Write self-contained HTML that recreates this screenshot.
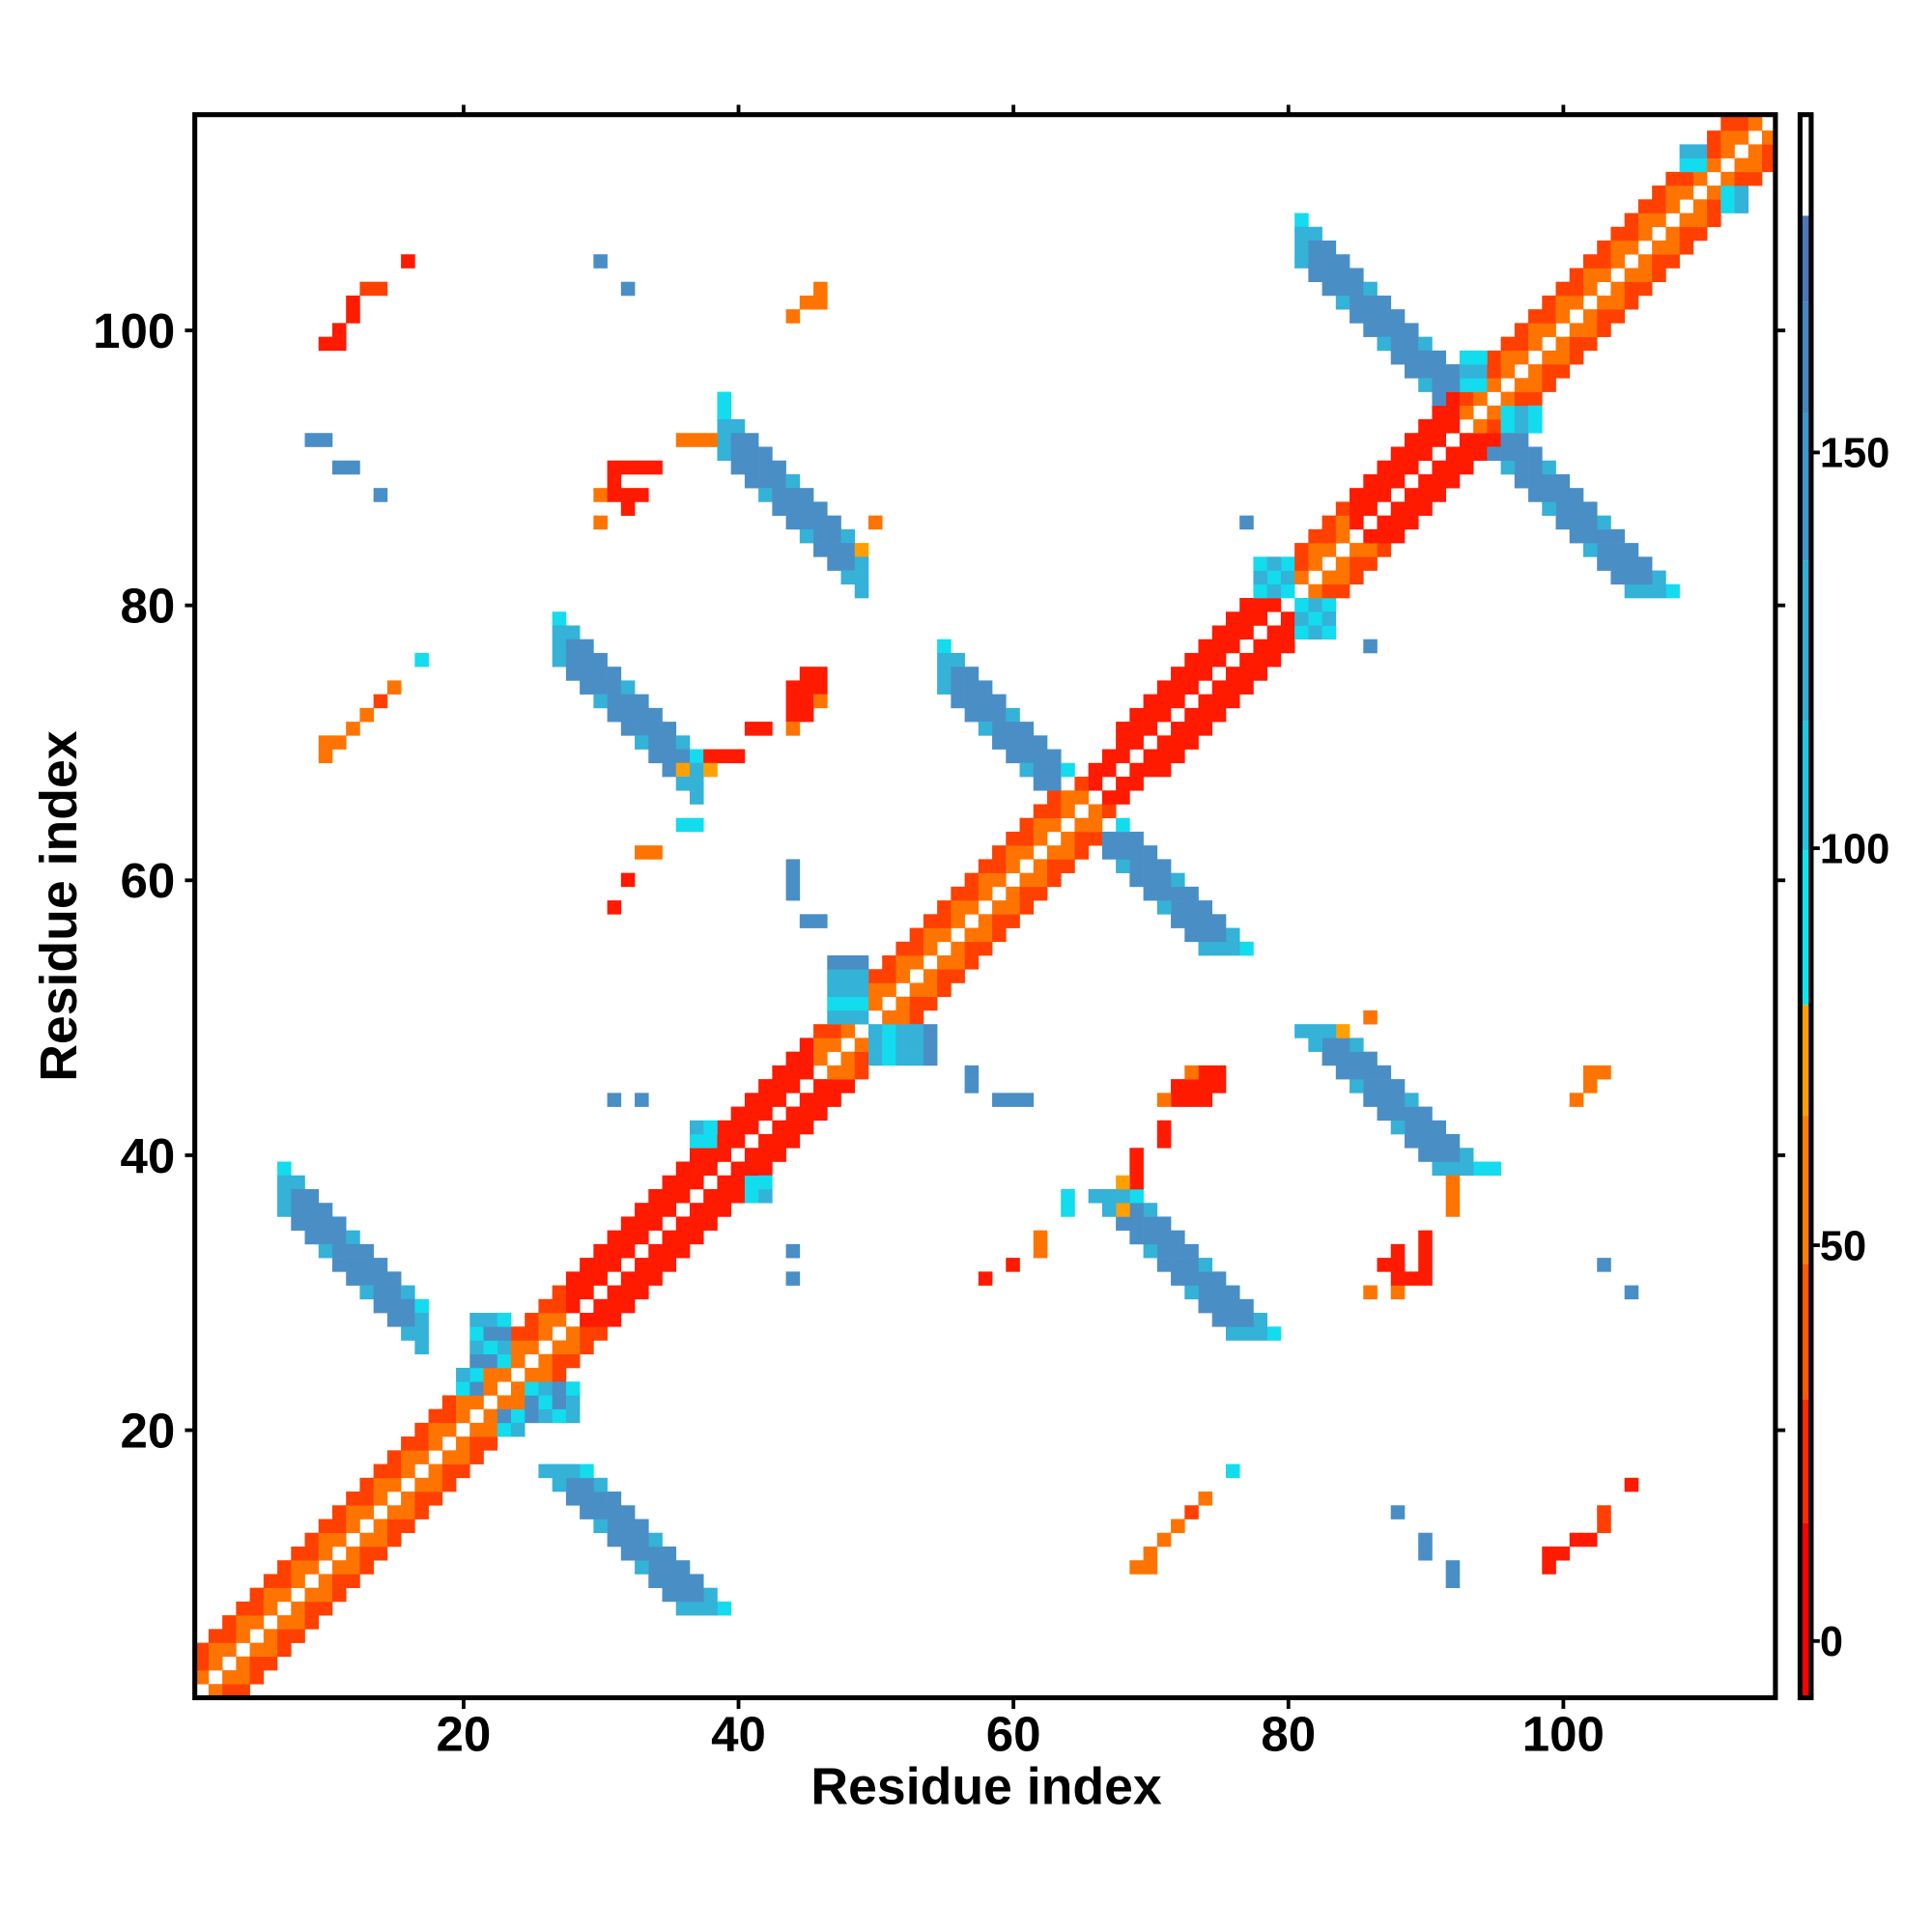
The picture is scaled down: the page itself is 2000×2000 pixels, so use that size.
<!DOCTYPE html>
<html><head><meta charset="utf-8"><style>
html,body{margin:0;padding:0;background:#fff}
svg{display:block}
text{font-family:"Liberation Sans",Arial,sans-serif;font-weight:bold;fill:#000}
</style></head><body>
<svg id="s" xmlns="http://www.w3.org/2000/svg" width="2000" height="2000" viewBox="0 0 1567 1567">
<rect width="1567" height="1567" fill="#fff"/>
<g id="cells"></g>
<rect x="158" y="93" width="1282" height="1284" fill="none" stroke="#000" stroke-width="4"/>
<g stroke="#000" stroke-width="3">
<line x1="376" y1="1377" x2="376" y2="1386"/><line x1="599" y1="1377" x2="599" y2="1386"/><line x1="822" y1="1377" x2="822" y2="1386"/><line x1="1045" y1="1377" x2="1045" y2="1386"/><line x1="1268" y1="1377" x2="1268" y2="1386"/>
<line x1="376" y1="93" x2="376" y2="85"/><line x1="599" y1="93" x2="599" y2="85"/><line x1="822" y1="93" x2="822" y2="85"/><line x1="1045" y1="93" x2="1045" y2="85"/><line x1="1268" y1="93" x2="1268" y2="85"/>
<line x1="158" y1="1160" x2="150" y2="1160"/><line x1="158" y1="937" x2="150" y2="937"/><line x1="158" y1="714" x2="150" y2="714"/><line x1="158" y1="491" x2="150" y2="491"/><line x1="158" y1="268" x2="150" y2="268"/>
<line x1="1440" y1="1160" x2="1448" y2="1160"/><line x1="1440" y1="937" x2="1448" y2="937"/><line x1="1440" y1="714" x2="1448" y2="714"/><line x1="1440" y1="491" x2="1448" y2="491"/><line x1="1440" y1="268" x2="1448" y2="268"/>
</g>
<g font-size="40" text-anchor="middle">
<text x="376" y="1420">20</text><text x="599" y="1420">40</text><text x="822" y="1420">60</text><text x="1045" y="1420">80</text><text x="1268" y="1420">100</text>
</g>
<g font-size="40" text-anchor="end">
<text x="142" y="1174">20</text><text x="142" y="951">40</text><text x="142" y="728">60</text><text x="142" y="505">80</text><text x="142" y="282">100</text>
</g>
<text x="800" y="1463" font-size="42" text-anchor="middle">Residue index</text>
<text transform="translate(62,735) rotate(-90)" font-size="42" text-anchor="middle">Residue index</text>
<rect x="1460" y="93" width="9" height="82" fill="#fff"/>
<rect x="1460" y="175" width="9" height="70" fill="#4a78b8"/>
<rect x="1460" y="245" width="9" height="90" fill="#4585c0"/>
<rect x="1460" y="335" width="9" height="120" fill="#3c98cc"/>
<rect x="1460" y="455" width="9" height="130" fill="#34acd6"/>
<rect x="1460" y="585" width="9" height="105" fill="#22c6e2"/>
<rect x="1460" y="690" width="9" height="125" fill="#0ce6f2"/>
<rect x="1460" y="815" width="9" height="90" fill="#ffa000"/>
<rect x="1460" y="905" width="9" height="120" fill="#ff7e00"/>
<rect x="1460" y="1025" width="9" height="110" fill="#ff5a00"/>
<rect x="1460" y="1135" width="9" height="100" fill="#ff2a00"/>
<rect x="1460" y="1235" width="9" height="142" fill="#ff0000"/>
<rect x="1460" y="93" width="9" height="1284" fill="none" stroke="#000" stroke-width="4"/>
<g stroke="#000" stroke-width="3">
<line x1="1469" y1="1331" x2="1476" y2="1331"/><line x1="1469" y1="1010" x2="1476" y2="1010"/><line x1="1469" y1="688" x2="1476" y2="688"/><line x1="1469" y1="367" x2="1476" y2="367"/>
</g>
<g font-size="34">
<text x="1476" y="1343">0</text><text x="1476" y="1022">50</text><text x="1476" y="700">100</text><text x="1476" y="379">150</text>
</g>
</svg>
<script>
var S=11.15,N=115;
var R="#ff1a00",r="#ff4000",O="#ff7400",Y="#ffa000",C="#12dcee",L="#34b2d8",B="#4a8ec6";
var M={};
function set(x,y,c){if(x<1||y<1||x>N||y>N||x==y)return;M[x+","+y]=c;M[y+","+x]=c;}
for(var i=1;i<=N;i++){
 var strand=(i>=66&&i<=80)||(i>=85&&i<=92)||(i>=28&&i<=45);
 set(i,i+1,strand?R:O);
 set(i,i+2,strand?R:((i%2)?r:O));
 if(i+3<=N && !(i>=64&&i<=67)) set(i,i+3,strand?R:r);
}
function band(x0,y0,n,w){for(var k=0;k<n;k++)for(var q=0;q<w;q++){var c=B;if(k==0||k==n-1)c=(q==0?C:L);else if(q==w-1&&k%3==0)c=L;else if(k%4==1&&q==0)c=L;var x=x0+k,y=y0-k-q;if(Math.abs(x-y)<=3)continue;set(x,y,c);}}
band(7,39,11,4);band(27,79,11,4);band(39,94,11,4);band(55,77,10,4);band(81,108,13,4);
function blk(x1,x2,y1,y2,cs){var n=0;for(var x=x1;x<=x2;x++)for(var y=y1;y<=y2;y++){set(x,y,cs[n%cs.length]);n++;}}
blk(47,49,50,54,[L,C,L,L,B]);
blk(21,23,25,28,[B,L,C,L,B,C]);
blk(20,21,23,24,[C,L,B]);
blk(78,80,81,83,[C,L,C,L]);
blk(93,94,96,98,[C,L,C]);
blk(109,110,112,113,[C,L]);
blk(37,38,41,42,[C,L,C]);
var P=[[10,99,R],[11,99,R],[11,100,R],[12,101,R],[12,102,R],[13,103,r],[14,103,r],[16,105,R],
[10,69,O],[10,70,O],[11,70,O],[12,71,O],[13,72,O],[14,73,r],[15,74,O],[17,76,C],
[9,92,B],[10,92,B],[11,90,B],[12,90,B],[14,88,B],[30,105,B],[32,103,B],
[31,90,R],[32,90,R],[33,90,R],[34,90,R],[31,89,R],[30,88,O],[31,88,R],[32,88,R],[33,88,R],[32,87,R],[30,86,O],
[44,101,O],[45,102,O],[46,102,O],[46,103,O],
[44,72,R],[45,72,R],[44,73,R],[45,73,R],[44,74,R],[45,74,R],[46,74,R],[45,75,R],[46,75,R],[46,73,O],[42,71,R],[44,71,O],
[38,69,R],[39,69,R],[36,68,Y],[38,68,Y],[33,62,O],[34,62,O],[32,60,R],[31,58,R],[36,64,C],[37,64,C],
[44,59,B],[44,60,B],[44,61,B],[45,57,B],[46,57,B],[31,44,B],[33,44,B],[40,69,R],[41,71,R],[77,86,B],
[36,92,O],[37,92,O],[50,86,O],[49,84,Y],[38,92,O],[39,95,C]];
P.forEach(function(p){set(p[0],p[1],p[2]);});
var h="";
for(var k in M){var a=k.split(",");var x=+a[0],y=+a[1];
 h+='<rect x="'+(158+(x-1)*S).toFixed(2)+'" y="'+(1377-y*S).toFixed(2)+'" width="11.4" height="11.4" fill="'+M[k]+'"/>';}
document.getElementById("cells").innerHTML=h;
</script>
</body></html>
